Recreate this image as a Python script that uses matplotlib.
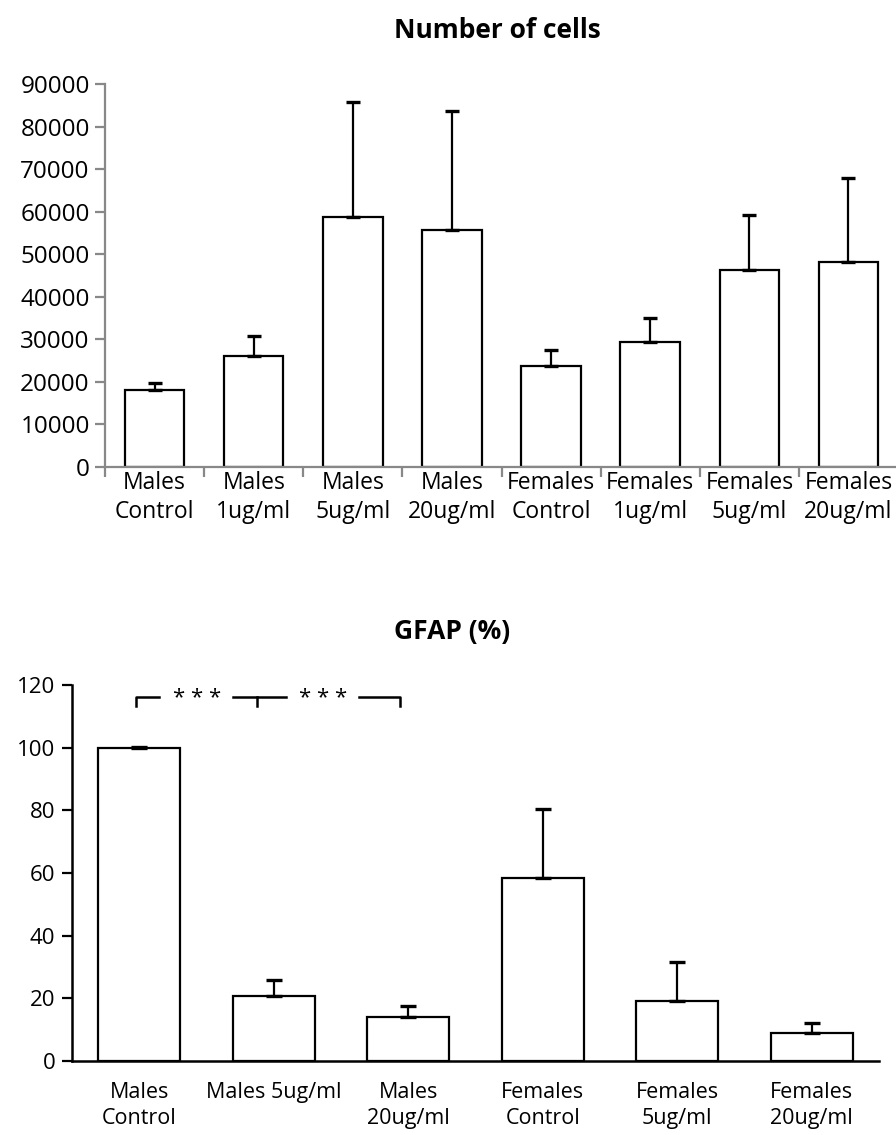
import matplotlib
matplotlib.use("Agg")
import matplotlib.pyplot as plt
import numpy as np

plt.rcParams['font.family'] = ['Open Sans', 'DejaVu Sans']

# ---- Data: Number of cells ----
cells_labels = ["Males\nControl", "Males\n1ug/ml", "Males\n5ug/ml", "Males\n20ug/ml",
                "Females\nControl", "Females\n1ug/ml", "Females\n5ug/ml", "Females\n20ug/ml"]
cells_values = [18100, 26200, 58800, 55600, 23700, 29300, 46200, 48100]
cells_err = [1700, 4600, 26900, 28000, 3800, 5700, 12900, 19900]

# ---- Data: GFAP (%) ----
gfap_labels = ["Males\nControl", "Males 5ug/ml", "Males\n20ug/ml",
               "Females\nControl", "Females\n5ug/ml", "Females\n20ug/ml"]
gfap_values = [100, 20.7, 13.9, 58.3, 19.1, 8.8]
gfap_err = [0.2, 5.1, 3.5, 22.2, 12.5, 3.2]

fig = plt.figure(figsize=(8.96, 11.35), dpi=100)

# ---------- Top chart ----------
ax1 = fig.add_axes([105/896, 1 - 467/1135, 793/896, (467 - 84)/1135])
x1 = np.arange(len(cells_values))
ax1.bar(x1, cells_values, width=0.6, color='white', edgecolor='black', linewidth=1.6, zorder=2)
ax1.errorbar(x1, cells_values, yerr=[np.zeros(len(cells_err)), cells_err], fmt='none',
             ecolor='black', elinewidth=1.6, capsize=5, capthick=2.4, zorder=3)
ax1.set_xlim(-0.5, len(cells_values) - 0.5)
ax1.set_ylim(0, 90000)
ax1.set_yticks(np.arange(0, 90001, 10000))
ax1.set_yticklabels([str(v) for v in range(0, 90001, 10000)], fontsize=17.5)
ax1.set_xticks(x1)
ax1.set_xticklabels(cells_labels, fontsize=16.5, linespacing=1.25)
ax1.set_xticks(np.arange(-0.5, len(cells_values)), minor=True)
ax1.tick_params(axis='x', which='major', length=0, pad=3)
ax1.tick_params(axis='x', which='minor', length=7, width=1.6, color='#888888', direction='out')
ax1.tick_params(axis='y', length=7, width=1.6, color='#888888', direction='out', pad=4)
for s in ['top', 'right']:
    ax1.spines[s].set_visible(False)
for s in ['left', 'bottom']:
    ax1.spines[s].set_color('#888888')
    ax1.spines[s].set_linewidth(1.6)
fig.text(497/896, 1 - 30/1135, "Number of cells", ha='center', va='center',
         fontsize=19, fontweight='bold')

# ---------- Bottom chart ----------
ax2 = fig.add_axes([72/896, 1 - 1061/1135, 807/896, (1061 - 685)/1135])
x2 = np.arange(len(gfap_values))
ax2.bar(x2, gfap_values, width=0.61, color='white', edgecolor='black', linewidth=1.6, zorder=2)
ax2.errorbar(x2, gfap_values, yerr=[np.zeros(len(gfap_err)), gfap_err], fmt='none',
             ecolor='black', elinewidth=1.6, capsize=6, capthick=2.4, zorder=3)
ax2.set_xlim(-0.5, len(gfap_values) - 0.5)
ax2.set_ylim(0, 120)
ax2.set_yticks(np.arange(0, 121, 20))
ax2.set_yticklabels([str(v) for v in range(0, 121, 20)], fontsize=16)
ax2.set_xticks(x2)
ax2.set_xticklabels(gfap_labels, fontsize=15.5, linespacing=1.35, va='top')
ax2.tick_params(axis='x', length=0, pad=15)
ax2.tick_params(axis='y', length=7, width=1.6, color='black', direction='out', pad=5)
for s in ['top', 'right']:
    ax2.spines[s].set_visible(False)
for s in ['left', 'bottom']:
    ax2.spines[s].set_color('black')
    ax2.spines[s].set_linewidth(1.8)

# significance brackets
yb, yd = 116.3, 113.4
lw = 1.8
ax2.plot([-0.026, -0.026, 0.149], [yd, yb, yb], color='black', lw=lw, clip_on=False)
ax2.plot([0.699, 1.089], [yb, yb], color='black', lw=lw, clip_on=False)
ax2.plot([0.878, 0.878], [yb, yd], color='black', lw=lw, clip_on=False)
ax2.plot([1.636, 1.939, 1.939], [yb, yb, yd], color='black', lw=lw, clip_on=False)
ax2.text(0.43, yb - 0.6, "* * *", ha='center', va='center', fontsize=16)
ax2.text(1.37, yb - 0.6, "* * *", ha='center', va='center', fontsize=16)

fig.text(452/896, 1 - 632/1135, "GFAP (%)", ha='center', va='center',
         fontsize=19, fontweight='bold')

fig.savefig("out.png", dpi=100)
